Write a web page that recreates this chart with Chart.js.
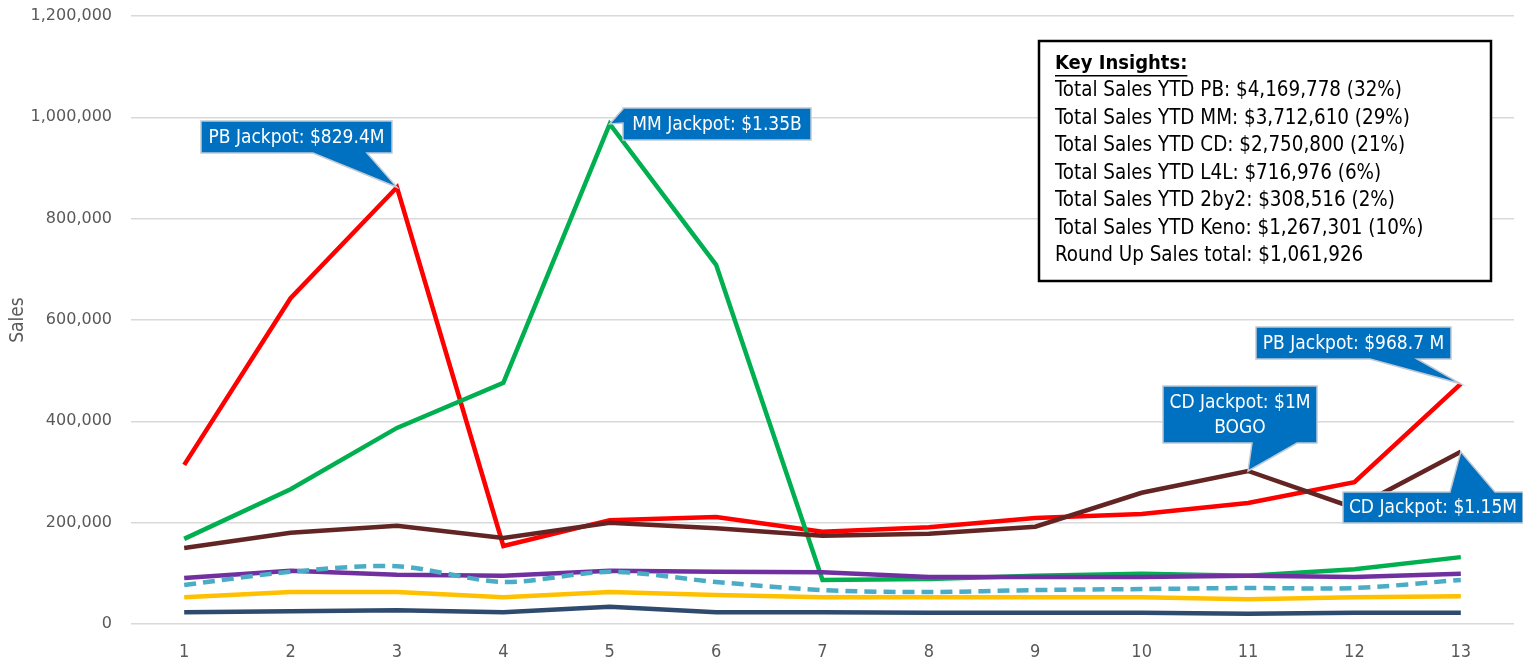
<!DOCTYPE html>
<html>
<head>
<meta charset="utf-8">
<script src="https://cdn.jsdelivr.net/npm/chart.js@4.4.1/dist/chart.umd.min.js"></script>
<style>
  html, body { margin: 0; padding: 0; background: #fff; }
  #wrap { width: 1523px; height: 662px; position: relative; }
</style>
</head>
<body>
<div id="wrap"><canvas id="myChart"></canvas></div>
<script>
const semanas = ["1", "2", "3", "4", "5", "6", "7", "8", "9", "10", "11", "12", "13"];

const ventasPB = [314000, 643000, 862000, 154000, 205000, 211000, 182000, 191000, 209000, 217000, 239000, 280000, 474000];
const ventasMM = [168000, 266000, 387000, 476000, 987000, 709000, 87000, 89000, 95000, 99000, 95000, 108000, 132000];
const ventasCD = [150000, 180000, 194000, 170000, 200000, 189000, 174000, 178000, 192000, 259000, 302000, 229000, 340000];
const ventasKeno = [91000, 105000, 97000, 95000, 105000, 103000, 102000, 93000, 93000, 93000, 95000, 93000, 99000];
const ventasRoundUp = [77000, 103000, 114000, 83000, 103000, 83000, 67000, 63000, 67000, 69000, 71000, 71000, 87000];
const ventasL4L = [53000, 63000, 63000, 53000, 63000, 57000, 53000, 53000, 53000, 53000, 49000, 53000, 55000];
const ventas2by2 = [23000, 25000, 27000, 23000, 34000, 23000, 23000, 22000, 22000, 22000, 20000, 22000, 22000];

const ticksY = [0, 200000, 400000, 600000, 800000, 1000000, 1200000];

const insights = [
  "Total Sales YTD PB: $4,169,778 (32%)",
  "Total Sales YTD MM: $3,712,610 (29%)",
  "Total Sales YTD CD: $2,750,800 (21%)",
  "Total Sales YTD L4L: $716,976 (6%)",
  "Total Sales YTD 2by2: $308,516 (2%)",
  "Total Sales YTD Keno: $1,267,301 (10%)",
  "Round Up Sales total: $1,061,926",
];

// serie, punto, texto
const notas = [
  { serie: "PB", i: 2, lineas: ["PB Jackpot: $829.4M"], caja: [201, 121, 191, 32], lado: "bottom", base: [313, 367] },
  { serie: "MM", i: 4, lineas: ["MM Jackpot: $1.35B"], caja: [623, 108, 188, 32], lado: "left", base: [109, 123] },
  { serie: "PB", i: 12, lineas: ["PB Jackpot: $968.7 M"], caja: [1256, 327, 195, 32], lado: "bottom", base: [1370, 1417] },
  { serie: "CD", i: 10, lineas: ["CD Jackpot: $1M", "BOGO"], caja: [1163, 386, 154, 57], lado: "bottom", base: [1252, 1297] },
  { serie: "CD", i: 12, lineas: ["CD Jackpot: $1.15M"], caja: [1343, 492, 180, 31], lado: "top", base: [1450, 1495] },
];

const fuenteCalibri = '"Liberation Sans Narrow", "DejaVu Sans Condensed", sans-serif';

const serie = (label, data, color, extra = {}) => ({
  label,
  data,
  borderColor: color,
  backgroundColor: color,
  borderWidth: 4.5,
  pointRadius: 0,
  tension: 0,
  fill: false,
  ...extra,
});

// globos azules sobre los puntos
const pluginNotas = {
  id: "notas",
  afterDatasetsDraw(chart) {
    const ctx = chart.ctx;
    notas.forEach((n) => {
      const ds = chart.data.datasets.findIndex((d) => d.label === n.serie);
      const p = chart.getDatasetMeta(ds).data[n.i];
      const [x, y, w, h] = n.caja;
      ctx.save();
      ctx.beginPath();
      ctx.moveTo(x, y);
      if (n.lado === "top") {
        ctx.lineTo(n.base[0], y);
        ctx.lineTo(p.x, p.y);
        ctx.lineTo(n.base[1], y);
      }
      ctx.lineTo(x + w, y);
      ctx.lineTo(x + w, y + h);
      if (n.lado === "bottom") {
        ctx.lineTo(n.base[1], y + h);
        ctx.lineTo(p.x, p.y);
        ctx.lineTo(n.base[0], y + h);
      }
      ctx.lineTo(x, y + h);
      if (n.lado === "left") {
        ctx.lineTo(x, n.base[1]);
        ctx.lineTo(p.x, p.y);
        ctx.lineTo(x, n.base[0]);
      }
      ctx.closePath();
      ctx.fillStyle = "#0070C0";
      ctx.fill();
      ctx.strokeStyle = "#BFC9D3";
      ctx.lineWidth = 1.5;
      ctx.stroke();

      ctx.fillStyle = "#fff";
      ctx.font = "19px " + fuenteCalibri;
      ctx.textAlign = "center";
      ctx.textBaseline = "middle";
      const alto = 25;
      const y0 = y + h / 2 - ((n.lineas.length - 1) * alto) / 2;
      n.lineas.forEach((t, k) => ctx.fillText(t, x + w / 2, y0 + k * alto + 1));
      ctx.restore();
    });

    // cuadro de key insights
    ctx.save();
    const bx = 1039, by = 41, bw = 452, bh = 240;
    ctx.fillStyle = "#fff";
    ctx.fillRect(bx, by, bw, bh);
    ctx.strokeStyle = "#000";
    ctx.lineWidth = 2.5;
    ctx.strokeRect(bx, by, bw, bh);
    ctx.fillStyle = "#000";
    ctx.textAlign = "left";
    ctx.textBaseline = "middle";
    ctx.font = "bold 20px " + fuenteCalibri;
    ctx.fillText("Key Insights:", 1055, 64);
    const ancho = ctx.measureText("Key Insights:").width;
    ctx.fillRect(1055, 75, ancho, 1.5);
    ctx.font = "20.4px " + fuenteCalibri;
    insights.forEach((t, k) => ctx.fillText(t, 1055, 91 + k * 27.5));
    ctx.restore();
  },
};

const config = {
  type: "line",
  data: {
    labels: semanas,
    // orden de dibujo: las series grandes encima
    datasets: [
      serie("2by2", ventas2by2, "#2E4A6E"),
      serie("L4L", ventasL4L, "#FFC000"),
      serie("Round Up", ventasRoundUp, "#4BACC6", { borderDash: [12, 7], tension: 0.3 }),
      serie("Keno", ventasKeno, "#7030A0"),
      serie("CD", ventasCD, "#632523"),
      serie("MM", ventasMM, "#00B050"),
      serie("PB", ventasPB, "#FF0000"),
    ],
  },
  options: {
    responsive: false,
    animation: false,
    layout: { padding: { top: 16, right: 9, left: 0, bottom: 0 } },
    plugins: {
      legend: { display: false },
      tooltip: { enabled: false },
    },
    scales: {
      x: {
        offset: true,
        grid: { display: false },
        border: { display: false },
        ticks: {
          color: "#595959",
          font: { family: fuenteCalibri, size: 18 },
          padding: 10,
          maxRotation: 0,
        },
        afterFit: (scale) => {
          scale.height = 38;
        },
      },
      y: {
        min: 0,
        max: 1200000,
        afterBuildTicks: (scale) => {
          scale.ticks = ticksY.map((v) => ({ value: v }));
        },
        grid: { color: "#D9D9D9", lineWidth: 1.5, drawTicks: false },
        border: { display: false },
        ticks: {
          color: "#595959",
          font: { family: '"DejaVu Sans", sans-serif', size: 16 },
          padding: 19,
          callback: (v) => v.toLocaleString("en-US"),
        },
        title: {
          display: true,
          text: "Sales",
          color: "#595959",
          font: { family: fuenteCalibri, size: 19 },
          padding: { top: 7, bottom: 0 },
        },
        afterFit: (scale) => {
          scale.width = 131;
          // el padding de ticks no debe empujar el area hacia abajo
          scale.paddingTop = 0;
          scale.paddingBottom = 0;
        },
      },
    },
  },
  plugins: [pluginNotas],
};

const canvas = document.getElementById("myChart");
canvas.width = 1523;
canvas.height = 662;
new Chart(canvas, config);
</script>
</body>
</html>
